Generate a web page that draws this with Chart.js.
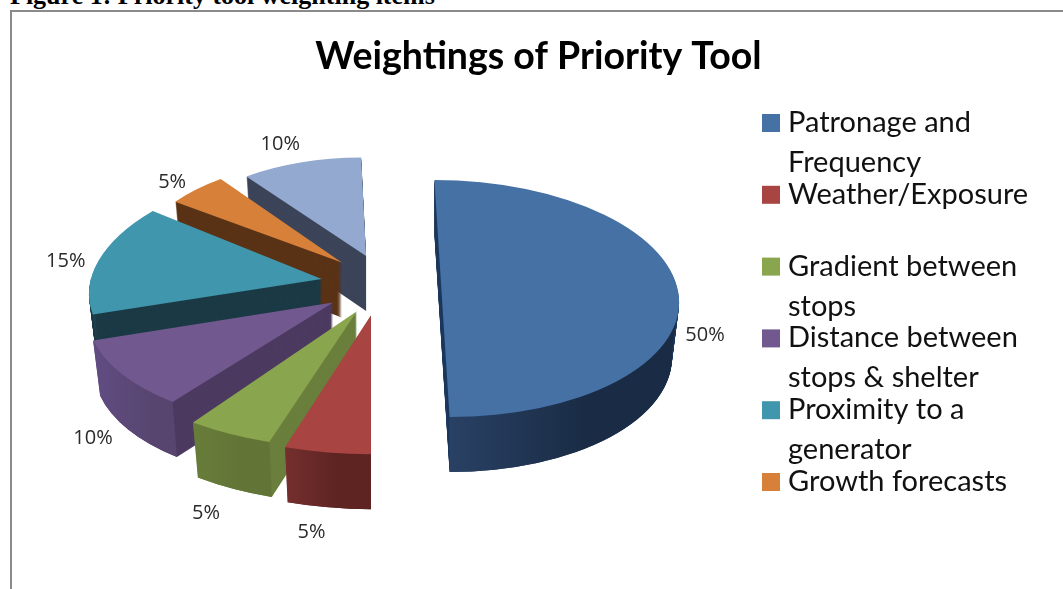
<!DOCTYPE html>
<html>
<head>
<meta charset="utf-8">
<title>Weightings of Priority Tool</title>
<script src="https://cdn.jsdelivr.net/npm/chart.js@4"></script>
<style>
    html, body { margin: 0; padding: 0; background: #fff; overflow: hidden; }
    #caption {
        position: absolute; left: 10px; top: -19px; white-space: nowrap;
        font: bold 26px "Liberation Serif", serif; color: #000;
    }
    #frame {
        position: absolute; left: 9.5px; top: 9.5px; width: 1100px; height: 700px;
        border: 2px solid #8a8a8a;
    }
    #chartBox { position: absolute; left: 0; top: 0; }
</style>
</head>
<body>
<div id="frame"></div>
<div id="caption">Figure 1: Priority tool weighting items</div>
<div id="chartBox"><canvas id="pieChart" width="1063" height="589"></canvas></div>
<script>
// Data
const categories = ['Patronage and Frequency', 'Weather/Exposure', 'Gradient between stops',
    'Distance between stops & shelter', 'Proximity to a generator', 'Growth forecasts', 'Other'];
const weightings = [50, 5, 5, 10, 15, 5, 10];

// The legend wraps its names and only has room for the first six
const legendLines = [['Patronage and', 'Frequency'], ['Weather/Exposure'], ['Gradient between', 'stops'],
    ['Distance between', 'stops & shelter'], ['Proximity to a', 'generator'], ['Growth forecasts']];

// Colours
const topColors = ['#4571a5', '#a84442', '#89a54e', '#71588f', '#4096ad', '#d68039', '#93a9cf'];
const cutColors = ['#1f3a5e', '#5f2423', '#6a7f3c', '#4c3a60', '#1b3a45', '#5a3316', '#3c4459'];
const wallLeft = ['#2a4266', '#742f2e', '#687c3a', '#604c80', '#1f4a57', '#5a3316', '#3c4459'];
const wallRight = ['#1a2c45', '#5e2422', '#627536', '#574570', '#1b3a45', '#5a3316', '#3c4459'];

// 3D look of the exploded pie, one value per slice
const explode = [62, 58, 51, 58, 59, 54, 45];
const lift = [15, 3, 5, 2, 0, -2, -6];
const perspective = [1.185, 1.39, 1.375, 1.23, 1.154, 1.03, 0.985];
const shear = [0.032, 0, -0.01, -0.08, -0.131, 0, 0.025];
const labelNudge = [[26, 37], [-16, 80], [-26, 80], [-41, 63], [-28, 0], [-24, -7], [-25, -18]];
const tilt = 0.5;
const depth = 55;
const shrink = 0.03; // far end of the walls is a little narrower
const shiftX = -158.5;
const backToFront = [6, 5, 4, 3, 2, 1, 0];

function sliceTransform(ctx, arc, i, drop) {
    const mid = (arc.startAngle + arc.endAngle) / 2;
    const ax = arc.x + shiftX + Math.cos(mid) * explode[i];
    const ay = arc.y + Math.sin(mid) * explode[i] * tilt + lift[i] + drop;
    const s = perspective[i];
    ctx.translate(ax, ay);
    ctx.transform(s * (1 - shrink * drop / depth), 0, shear[i] * s, tilt * s, 0, 0);
    ctx.translate(-arc.x, -arc.y);
}

function drawWalls(ctx, arc, i) {
    // cut faces: the slice swept downwards
    ctx.fillStyle = cutColors[i];
    for (let drop = depth; drop >= 1; drop--) {
        ctx.save();
        sliceTransform(ctx, arc, i, drop);
        ctx.beginPath();
        ctx.moveTo(arc.x, arc.y);
        ctx.arc(arc.x, arc.y, arc.outerRadius, arc.startAngle, arc.endAngle);
        ctx.closePath();
        ctx.restore();
        ctx.fill();
    }

    // rounded outer wall, only where it faces the viewer
    const a0 = Math.max(arc.startAngle, 0);
    const a1 = Math.min(arc.endAngle, Math.PI);
    if (a1 <= a0) return;
    ctx.beginPath();
    ctx.save();
    sliceTransform(ctx, arc, i, 0);
    ctx.arc(arc.x, arc.y, arc.outerRadius, a0, a1);
    ctx.restore();
    ctx.save();
    sliceTransform(ctx, arc, i, depth);
    ctx.arc(arc.x, arc.y, arc.outerRadius, a1, a0, true);
    ctx.restore();
    ctx.closePath();
    const mid = (arc.startAngle + arc.endAngle) / 2;
    const ax = arc.x + shiftX + Math.cos(mid) * explode[i];
    const r = arc.outerRadius * perspective[i];
    const gradient = ctx.createLinearGradient(ax + Math.cos(a1) * r, 0, ax + Math.cos(a0) * r, 0);
    gradient.addColorStop(0, wallLeft[i]);
    gradient.addColorStop(0.6, wallRight[i]);
    gradient.addColorStop(1, wallRight[i]);
    ctx.fillStyle = gradient;
    ctx.fill();
}

const pie3d = {
    id: 'pie3d',
    beforeDatasetsDraw(chart) {
        const ctx = chart.ctx;
        const arcs = chart.getDatasetMeta(0).data;

        backToFront.forEach(i => drawWalls(ctx, arcs[i], i));
        backToFront.forEach(i => {
            ctx.save();
            sliceTransform(ctx, arcs[i], i, 0);
            arcs[i].draw(ctx);
            ctx.restore();
        });

        // percentage labels outside each slice
        ctx.save();
        ctx.font = '20px "Open Sans"';
        ctx.fillStyle = '#2a2a2a';
        ctx.textAlign = 'center';
        ctx.textBaseline = 'middle';
        const total = weightings.reduce((a, b) => a + b, 0);
        arcs.forEach((arc, i) => {
            const mid = (arc.startAngle + arc.endAngle) / 2;
            const r = arc.outerRadius * perspective[i];
            const x = arc.x + shiftX + Math.cos(mid) * (explode[i] + r) + labelNudge[i][0];
            const y = arc.y + Math.sin(mid) * (explode[i] + r) * tilt + lift[i] + labelNudge[i][1];
            ctx.fillText(Math.round(weightings[i] / total * 100) + '%', x, y);
        });
        ctx.restore();
        return false;
    },
    afterDraw(chart) {
        // legend has uneven wrapping and a fixed row height, so it is drawn here
        const ctx = chart.ctx;
        ctx.save();
        ctx.font = '29px Lato';
        ctx.textAlign = 'left';
        ctx.textBaseline = 'alphabetic';
        legendLines.forEach((lines, i) => {
            const baseline = 132 + i * 71.8;
            ctx.fillStyle = topColors[i];
            ctx.fillRect(762, baseline - 18, 18, 18);
            ctx.fillStyle = '#111';
            lines.forEach((line, n) => ctx.fillText(line, 788, baseline + n * 40));
        });
        ctx.restore();
    }
};

new Chart(document.getElementById('pieChart'), {
    type: 'pie',
    data: {
        labels: categories,
        datasets: [{
            data: weightings,
            backgroundColor: topColors,
            borderWidth: 0
        }]
    },
    options: {
        responsive: false,
        animation: false,
        radius: 200,
        layout: { padding: { left: 14, bottom: 111 } },
        plugins: {
            legend: { display: false },
            tooltip: { enabled: false },
            title: {
                display: true,
                text: 'Weightings of Priority Tool',
                color: '#000',
                font: { family: 'Lato', size: 37.5, weight: 'bold' },
                padding: { top: 34, bottom: 10 }
            }
        }
    },
    plugins: [pie3d]
});
</script>
</body>
</html>
